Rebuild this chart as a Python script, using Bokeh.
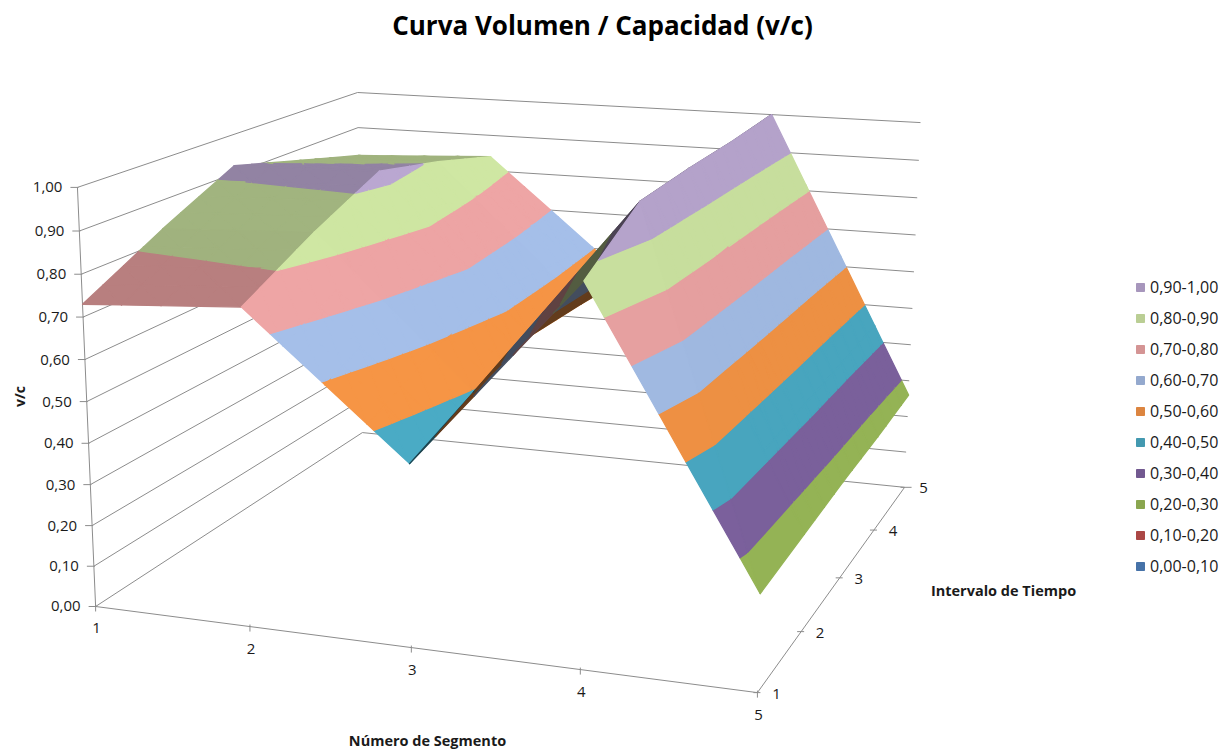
import numpy as np
from bokeh.plotting import figure
from bokeh.models import Legend, LegendItem
from bokeh.embed import file_html
from bokeh.resources import INLINE
from bokeh.core.properties import value

# ---- chart data -------------------------------------------------------
title = "Curva Volumen / Capacidad (v/c)"
x_title = "Número de Segmento"
y_title = "Intervalo de Tiempo"
z_title = "v/c"
segments = [1, 2, 3, 4, 5]
intervals = [1, 2, 3, 4, 5]
z_ticks = [0.0, 0.1, 0.2, 0.3, 0.4, 0.5, 0.6, 0.7, 0.8, 0.9, 1.0]
z_tick_labels = ["0,00", "0,10", "0,20", "0,30", "0,40", "0,50", "0,60", "0,70", "0,80", "0,90", "1,00"]
# v/c per segment, one list per time interval
vc_t1 = [0.73, 0.755, 0.432, 0.875, 0.225]
vc_t2 = [0.83, 0.85, 0.495, 0.975, 0.235]
vc_t3 = [0.92, 0.93, 0.54, 0.985, 0.245]
vc_t4 = [0.87, 0.89, 0.535, 0.99, 0.25]
vc_t5 = [0.82, 0.84, 0.525, 1.00, 0.26]
band_labels = ["0,00-0,10", "0,10-0,20", "0,20-0,30", "0,30-0,40", "0,40-0,50",
               "0,50-0,60", "0,60-0,70", "0,70-0,80", "0,80-0,90", "0,90-1,00"]
band_colors = ["#4F81BD", "#C0504D", "#9BBB59", "#8064A2", "#4BACC6",
               "#F79646", "#A6C0EA", "#EFA6A6", "#D0E8A4", "#BCA9D3"]
legend_colors = ["#4672A8", "#AB4745", "#8AA64F", "#725990", "#4399B0",
                 "#DC8540", "#94A9CE", "#D49494", "#BACE94", "#A796BC"]

# ---- oblique view of the chart box (data corner -> page pixel) ---------
view_pairs = [((1, 1, 0), (95, 606)), ((5, 1, 0), (757, 692)), ((5, 5, 0), (904, 487)),
              ((1, 5, 0), (362, 432)), ((1, 1, 1), (77, 187)), ((1, 5, 1), (357, 92)),
              ((5, 5, 1), (920, 122))]
A = []
for (X, Y, Z), (u, v) in view_pairs:
    A.append([X, Y, Z, 1, 0, 0, 0, 0, -u*X, -u*Y, -u*Z, -u])
    A.append([0, 0, 0, 0, X, Y, Z, 1, -v*X, -v*Y, -v*Z, -v])
P = np.linalg.svd(np.array(A, float))[2][-1].reshape(3, 4)


def proj(s, t, z):
    h = P @ np.array([s, t, z, 1.0])
    return h[0]/h[2], h[1]/h[2]


def clip(poly, level, keep_above):
    out = []
    n = len(poly)
    for i in range(n):
        a, b = poly[i], poly[(i+1) % n]
        ina = a[2] >= level if keep_above else a[2] <= level
        inb = b[2] >= level if keep_above else b[2] <= level
        if ina:
            out.append(a)
        if ina != inb:
            f = (level-a[2])/(b[2]-a[2])
            out.append(tuple(a[k]+f*(b[k]-a[k]) for k in range(3)))
    return out


def shade(hexcol, f):
    rgb = [int(hexcol[i:i+2], 16) for i in (1, 3, 5)]
    return "#%02x%02x%02x" % tuple(int(min(255, c*f)) for c in rgb)


vc = np.array([vc_t1, vc_t2, vc_t3, vc_t4, vc_t5])
tris = []

SUB = 4
for i in range(4):
    for j in range(4):
        s0, s1, t0, t1 = segments[i], segments[i+1], intervals[j], intervals[j+1]
        z00, z10, z01, z11 = vc[j, i], vc[j, i+1], vc[j+1, i], vc[j+1, i+1]
        if i == 2 or (i == 3 and j == 0):
            a, b, c, d = (s0, t0, z00), (s1, t0, z10), (s0, t1, z01), (s1, t1, z11)
            tris.append((a, b, c, z10-z00))
            tris.append((b, d, c, z11-z01))
            continue
        slope = (z10+z11-z00-z01)/2

        def pt(u, v):
            return (s0+u*(s1-s0), t0+v*(t1-t0),
                    z00*(1-u)*(1-v)+z10*u*(1-v)+z01*(1-u)*v+z11*u*v)
        for m in range(SUB):
            for n in range(SUB):
                u0, u1, v0, v1 = m/SUB, (m+1)/SUB, n/SUB, (n+1)/SUB
                a, b, c, d = pt(u0, v0), pt(u1, v0), pt(u0, v1), pt(u1, v1)
                tris.append((a, b, c, slope))
                tris.append((b, d, c, slope))
tris.sort(key=lambda T: sum(p[0]-p[1] for p in T[:3]))

xs, ys, cols = [], [], []
for T in tris:
    f = float(np.interp(T[3], [-0.7, -0.3, 0.0, 0.45], [0.96, 1.0, 0.79, 0.40]))
    for k, col in enumerate(band_colors):
        poly = clip(clip(list(T[:3]), k/10, True), (k+1)/10, False)
        if len(poly) >= 3:
            pts = [proj(*p) for p in poly]
            xs.append([q[0] for q in pts])
            ys.append([q[1] for q in pts])
            cols.append(shade(col, f))

# ---- figure: data units of the frame are page pixels -------------------
W, H = 1226, 751
p = figure(width=W, height=H, x_range=(0, W), y_range=(H, 0), output_backend="svg",
           toolbar_location=None, min_border=0, outline_line_color=None)
p.axis.visible = False
p.grid.visible = False

FONT = value("Open Sans")
GRID = "#8c8c8c"

gx, gy = [], []
for z in z_ticks:
    pts = [proj(1, 1, z), proj(1, 5, z), proj(5, 5, z)]
    gx.append([q[0] for q in pts])
    gy.append([q[1] for q in pts])
for a, b in [((1, 1, 0), (1, 1, 1)), ((1, 1, 0), (5, 1, 0)), ((5, 1, 0), (5, 5, 0))]:
    q0, q1 = proj(*a), proj(*b)
    gx.append([q0[0], q1[0]])
    gy.append([q0[1], q1[1]])
for z in z_ticks:
    q = proj(1, 1, z)
    gx.append([q[0]-7, q[0]+1])
    gy.append([q[1], q[1]])
for s in segments:
    q = proj(s, 1, 0)
    gx.append([q[0], q[0]])
    gy.append([q[1]-2, q[1]+5])
for t in intervals:
    q = proj(5, t, 0)
    off = 7 if t == 5 else 3
    gx.append([q[0]-4, q[0]+off])
    gy.append([q[1], q[1]])
p.multi_line(gx, gy, line_color=GRID, line_width=1)

p.patches(xs, ys, fill_color=cols, line_color=cols, line_width=1.3, line_join="round")


def label(x, y, txt, size, bold=False, align="center", angle=0, color="#1a1a1a"):
    p.text(x, y, text=txt, text_font=FONT, text_font_size=size, text_align=align,
           text_baseline="middle", angle=angle, text_color=color,
           text_font_style="bold" if bold else "normal")


zq = [proj(1, 1, z) for z in z_ticks]
label([q[0]-15 for q in zq], [q[1] for q in zq], z_tick_labels, "15px", align="right")
sq = [proj(s, 1, 0) for s in segments]
label([q[0]+1 for q in sq], [q[1]+22 for q in sq], [str(s) for s in segments], "15px")
tq = [proj(5, t, 0) for t in intervals]
label([q[0]+19 for q in tq], [q[1]+1 for q in tq], [str(t) for t in intervals], "15px")

label([602], [24], [title], "26px", bold=True, color="#000000")
label([427], [740], [x_title], "14.5px", bold=True)
label([1003], [590], [y_title], "14.5px", bold=True)
label([19], [396], [z_title], "14px", bold=True, angle=np.pi/2)

items = []
for lab, col in zip(reversed(band_labels), reversed(legend_colors)):
    r = p.scatter([-50], [-50], marker="square", size=8, fill_color=col, line_color=col)
    items.append(LegendItem(label=lab, renderers=[r]))
leg = Legend(items=items, location=(1130, 174), orientation="vertical", padding=0, margin=0,
             spacing=9, glyph_width=20, glyph_height=20, label_height=20, label_standoff=0,
             label_text_font="Open Sans", label_text_font_size="16px", label_text_color="#1a1a1a",
             background_fill_alpha=0, border_line_alpha=0)
p.add_layout(leg, "center")

open("out.html", "w").write(file_html(p, INLINE))
